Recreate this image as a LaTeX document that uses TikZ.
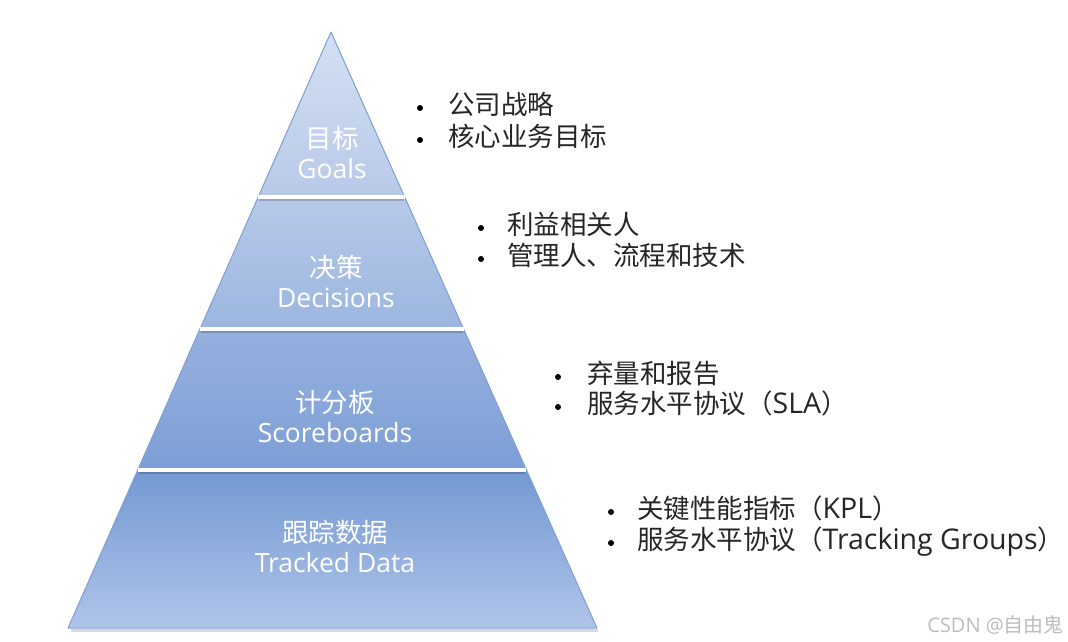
\documentclass[tikz,border=0pt]{standalone}
\usepackage{fontspec}
\setmainfont{Open Sans}
\newfontfamily\cjk{Noto Sans CJK SC}
\usetikzlibrary{calc}
\definecolor{textc}{HTML}{262626}
\definecolor{edgec}{HTML}{7E9ED3}
\definecolor{wmc}{HTML}{BDBDBD}
\newcommand{\latn}[1]{{\fontsize{28.5}{30}\selectfont #1}}
\begin{document}
\begin{tikzpicture}[x=1pt,y=-1pt,
  lbl/.style={text=white,font=\fontsize{26.5}{30}\selectfont,anchor=base,inner sep=0pt},
  item/.style={text=textc,font=\fontsize{26.5}{30}\selectfont,anchor=base west,inner sep=0pt},
  dot/.style={circle,fill=black,inner sep=0pt,minimum size=6pt},
  sepline/.style={white,line width=3.5pt},
  sepshadow/.style={black,opacity=0.18,line width=2pt},
]
\useasboundingbox (0,0) rectangle (1068,642);
\fill[white] (0,0) rectangle (1068,642);
% pyramid corners
\coordinate (A) at (331,32);
\coordinate (L) at (68,628);
\coordinate (R) at (597,628);
\coordinate (l1) at ($(A)!0.27685!(L)$);
\coordinate (r1) at ($(A)!0.27685!(R)$);
\coordinate (l2) at ($(A)!0.49832!(L)$);
\coordinate (r2) at ($(A)!0.49832!(R)$);
\coordinate (l3) at ($(A)!0.73490!(L)$);
\coordinate (r3) at ($(A)!0.73490!(R)$);
% base shadow
\draw[black,opacity=0.15,line width=2.5pt] ($(L)+(3,2.5)$) -- ($(R)+(1,2.5)$);
% layers
\shade[top color={rgb,255:red,212;green,223;blue,242}, bottom color={rgb,255:red,184;green,201;blue,232}] (A) -- (r1) -- (l1) -- cycle;
\shade[top color={rgb,255:red,183;green,201;blue,232}, bottom color={rgb,255:red,156;green,182;blue,224}] (l1) -- (r1) -- (r2) -- (l2) -- cycle;
\shade[top color={rgb,255:red,150;green,176;blue,222}, bottom color={rgb,255:red,125;green,159;blue,214}] (l2) -- (r2) -- (r3) -- (l3) -- cycle;
\shade[top color={rgb,255:red,115;green,153;blue,210}, middle color={rgb,255:red,110;green,149;blue,208}, bottom color={rgb,255:red,176;green,196;blue,233}] (l3) -- (r3) -- (R) -- (L) -- cycle;
% outline
\draw[edgec,line width=1pt,line join=round] (A) -- (R) -- (L) -- cycle;
% separators
\draw[sepshadow] ($(l1)+(1,2.5)$) -- ($(r1)+(-1,2.5)$);
\draw[sepshadow] ($(l2)+(1,2.5)$) -- ($(r2)+(-1,2.5)$);
\draw[sepshadow] ($(l3)+(1,2.5)$) -- ($(r3)+(-1,2.5)$);
\draw[sepline] (l1) -- (r1);
\draw[sepline] (l2) -- (r2);
\draw[sepline] (l3) -- (r3);
% pyramid labels
\node[lbl] (g1) at (332,148) {\cjk 目标};
\node[lbl] (g2) at (332,178) {Goals};
\node[lbl] (d1) at (336,277) {\cjk 决策};
\node[lbl] (d2) at (336,307) {Decisions};
\node[lbl] (s1) at (335,412) {\cjk 计分板};
\node[lbl] (s2) at (335,442) {Scoreboards};
\node[lbl] (t1) at (335,542) {\cjk 跟踪数据};
\node[lbl] (t2) at (335,572) {Tracked Data};
% right-hand bullet lists
\node[dot] (b11) at (420,108) {};
\node[item] (i11) at (448,114) {\cjk 公司战略};
\node[dot] (b12) at (420,140) {};
\node[item] (i12) at (448,146) {\cjk 核心业务目标};
\node[dot] (b21) at (481,228) {};
\node[item] (i21) at (507,234) {\cjk 利益相关人};
\node[dot] (b22) at (481,259) {};
\node[item] (i22) at (507,265) {\cjk 管理人、流程和技术};
\node[dot] (b31) at (558,377) {};
\node[item] (i31) at (587,383) {\cjk 弃量和报告};
\node[dot] (b32) at (558,407) {};
\node[item] (i32) at (587,413) {{\cjk 服务水平协议（}\latn{SLA}{\cjk ）}};
\node[dot] (b41) at (611,512) {};
\node[item] (i41) at (637,518) {{\cjk 关键性能指标（}\latn{KPL}{\cjk ）}};
\node[dot] (b42) at (611,543) {};
\node[item] (i42) at (637,549) {{\cjk 服务水平协议（}\latn{Tracking Groups}{\cjk ）}};
% watermark
\node[text=wmc,font=\fontsize{20}{22}\selectfont,anchor=base east,inner sep=0pt] (wm) at (1064,632) {CSDN @{\cjk 自由鬼}};
\end{tikzpicture}
\end{document}
